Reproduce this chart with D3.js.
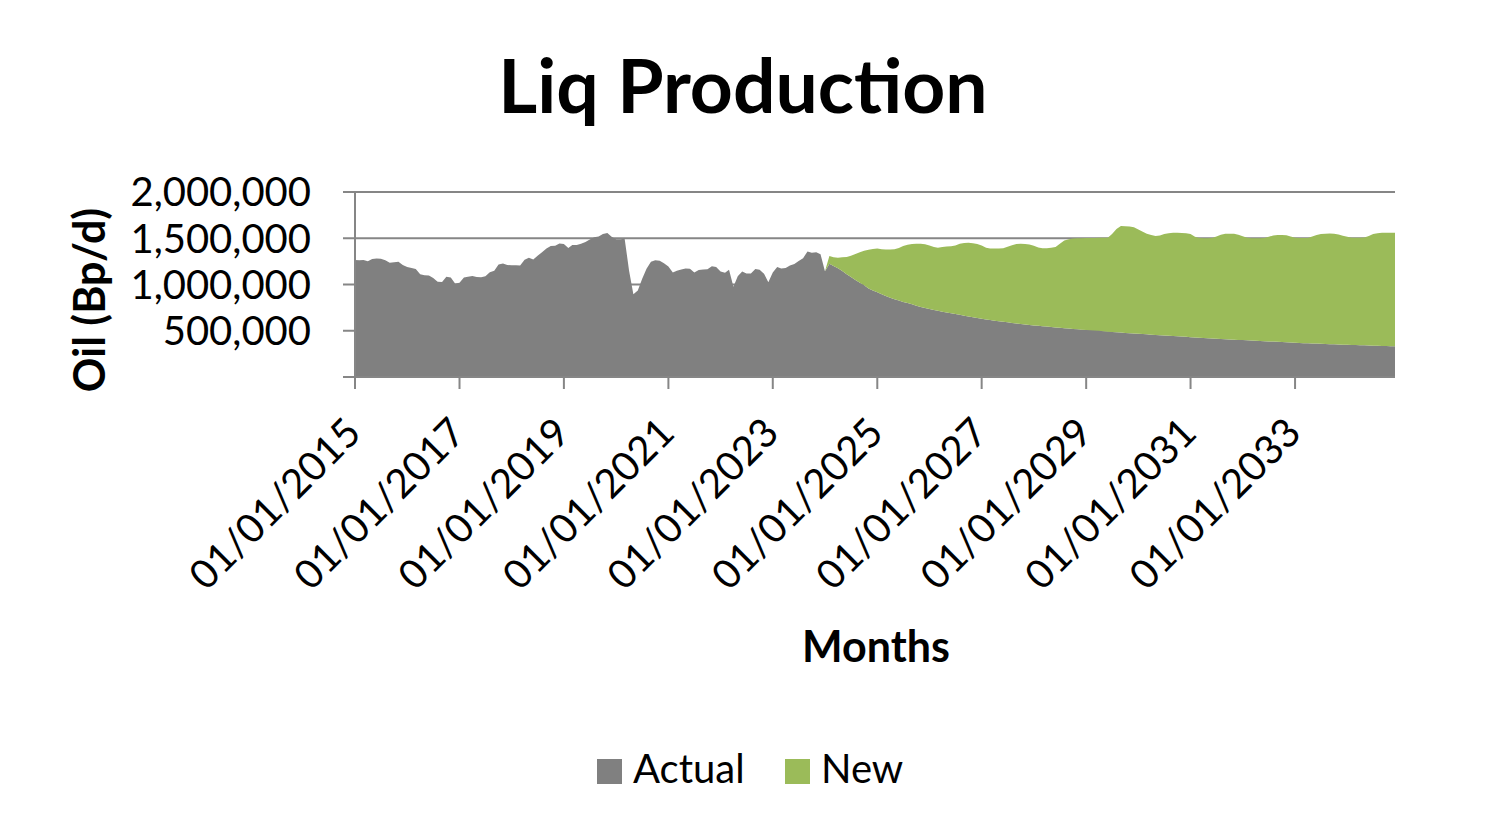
<!DOCTYPE html>
<html><head><meta charset="utf-8">
<script src="https://cdn.jsdelivr.net/npm/d3@7"></script>
<style>body{margin:0;background:#fff;} svg{display:block;} text{font-family:Lato,"Open Sans",sans-serif;fill:#000;}</style>
</head><body><svg id="c" width="1485" height="840"></svg>
<script>
// values in thousand barrels per day, monthly from Jan 2015
const UNIT = 1000;
const firstMonth = [2015, 0];
const actual = [
1265,1262,1266,1252,1276,1280,1278,1262,1236,1240,
1246,1212,1190,1178,1168,1110,1100,1098,1070,1030,
1028,1085,1075,1010,1020,1075,1083,1092,1080,1078,
1088,1133,1150,1215,1226,1210,1208,1207,1206,1268,
1288,1270,1310,1350,1390,1415,1420,1444,1438,1395,
1426,1428,1440,1460,1487,1510,1520,1545,1558,1515,
1488,1490,1495,1150,895,935,1060,1170,1245,1262,
1258,1230,1195,1130,1148,1162,1172,1170,1130,1158,
1163,1165,1196,1190,1140,1128,1160,975,1088,1140,
1118,1118,1168,1160,1115,1025,1130,1188,1172,1178,
1205,1222,1255,1285,1358,1343,1350,1328,1144,1224,
1200,1175,1145,1112,1080,1050,1020,992,958,935,
915,895,876,858,841,826,812,799,786,770,
757,746,735,725,715,706,697,689,680,672,
663,655,646,638,630,622,616,609,603,597,
591,585,579,573,568,563,558,554,550,545,
540,536,532,527,523,520,516,512,509,505,
502,499,495,489,486,483,480,477,474,471,
467,464,461,458,455,452,449,446,443,440,
437,434,431,428,423,421,418,416,413,411,
408,406,403,401,399,396,394,392,389,387,
385,383,380,378,376,374,371,368,366,364,
363,361,359,357,355,354,352,350,349,347,
346,344,342,341,339,338,336,335,333,332];
// "New" series starts Jan 2024 (month index 108)
const newStartIndex = 108;
const newVals = [
0,83,95,115,149,186,232,280,330,373,
418,450,473,487,503,520,539,569,603,631,
652,671,684,690,687,680,683,699,713,725,
742,768,787,797,800,800,792,776,774,779,
787,795,817,840,859,868,870,869,860,846,
842,847,858,869,908,948,967,978,984,989,
993,998,1002,1006,1010,1017,1059,1117,1152,1153,
1153,1149,1128,1106,1087,1077,1070,1078,1096,1109,
1117,1120,1121,1121,1114,1087,1079,1079,1082,1086,
1107,1127,1142,1144,1145,1137,1123,1109,1106,1107,
1111,1115,1130,1147,1155,1157,1156,1146,1135,1135,
1136,1139,1157,1174,1186,1193,1197,1196,1188,1178,
1166,1159,1159,1161,1166,1184,1206,1217,1224,1225,
1227,1228];
const seriesNames = ["Actual", "New"];
const seriesColors = ["#808080", "#9BBB59"];
const yTicks = [500000, 1000000, 1500000, 2000000];
const yMax = 2000000;
const xTickEveryMonths = 24;

const start = new Date(Date.UTC(firstMonth[0], firstMonth[1], 1));
const months = d3.range(actual.length).map(i => d3.utcMonth.offset(start, i));
const rows = months.map((d, i) => ({
  date: d,
  Actual: actual[i] * UNIT,
  New: (i >= newStartIndex ? newVals[i - newStartIndex] : 0) * UNIT
}));

const svg = d3.select("#c");
const L = 355, R = 1395, T = 192, B = 377;
const x = d3.scaleUtc().domain([months[0], months[months.length - 1]]).range([L, R]);
const y = d3.scaleLinear().domain([0, yMax]).range([B, T]);
const axisColor = "#868686";

// gridlines
svg.append("g").selectAll("line").data(yTicks).join("line")
  .attr("x1", L - 12).attr("x2", R).attr("y1", d => y(d)).attr("y2", d => y(d))
  .attr("stroke", axisColor).attr("stroke-width", 2);

// stacked areas
const stack = d3.stack().keys(seriesNames);
const layers = stack(rows);
const area = d3.area().x(d => x(d.data.date)).y0(d => y(d[0])).y1(d => y(d[1]));
svg.append("g").selectAll("path").data(layers).join("path")
  .attr("d", area).attr("fill", (d, i) => seriesColors[i]);

// axes lines
svg.append("line").attr("x1", L).attr("x2", L).attr("y1", T).attr("y2", B + 12)
  .attr("stroke", axisColor).attr("stroke-width", 2);
svg.append("line").attr("x1", L - 12).attr("x2", R).attr("y1", B).attr("y2", B)
  .attr("stroke", axisColor).attr("stroke-width", 2);

// y axis labels
const fmt = d3.format(",");
svg.append("g").selectAll("text").data(yTicks).join("text")
  .attr("x", 311).attr("y", d => y(d)).attr("dy", "0.36em")
  .attr("text-anchor", "end").attr("font-size", 40).text(d => fmt(d));

// x ticks every 24 months from the first month
const xTicks = d3.range(0, months.length, xTickEveryMonths).map(i => months[i]);
svg.append("g").selectAll("line").data(xTicks).join("line")
  .attr("x1", d => x(d)).attr("x2", d => x(d)).attr("y1", B).attr("y2", B + 12)
  .attr("stroke", axisColor).attr("stroke-width", 2);
const tf = d3.utcFormat("%d/%m/%Y");
svg.append("g").selectAll("text").data(xTicks).join("text")
  .attr("transform", d => `translate(${x(d) - 2},${B + 48}) rotate(-45)`)
  .attr("text-anchor", "end").attr("dy", "0.36em").attr("font-size", 40).text(d => tf(d));

// titles
svg.append("text").attr("x", 743).attr("y", 113).attr("text-anchor", "middle")
  .attr("font-size", 75).attr("font-weight", "bold").text("Liq Production");
svg.append("text").attr("transform", "translate(90,300) rotate(-90)")
  .attr("text-anchor", "middle").attr("dy", "0.36em")
  .attr("font-size", 43).attr("font-weight", "bold").text("Oil (Bp/d)");
svg.append("text").attr("x", 876).attr("y", 662).attr("text-anchor", "middle")
  .attr("font-size", 43).attr("font-weight", "bold").text("Months");

// legend
const legend = [{name: seriesNames[0], color: seriesColors[0], x: 597}, {name: seriesNames[1], color: seriesColors[1], x: 785}];
const lg = svg.append("g").selectAll("g").data(legend).join("g")
  .attr("transform", d => `translate(${d.x},759)`);
lg.append("rect").attr("width", 25).attr("height", 25).attr("fill", d => d.color);
lg.append("text").attr("x", 36).attr("y", 24).attr("font-size", 40).text(d => d.name);
</script>
</body></html>
